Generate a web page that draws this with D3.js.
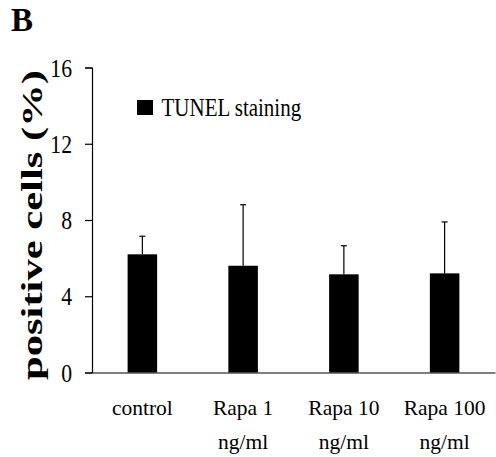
<!DOCTYPE html>
<html>
<head>
<meta charset="utf-8">
<script src="https://cdn.jsdelivr.net/npm/d3@7"></script>
<style>
  html, body { margin: 0; padding: 0; background: white; }
</style>
</head>
<body>
<div id="idMyCanvas"></div>
<script>
// data
let categories = [["control"], ["Rapa 1", "ng/ml"], ["Rapa 10", "ng/ml"], ["Rapa 100", "ng/ml"]];
let means = [6.2, 5.6, 5.15, 5.2];
let errors = [0.95, 3.2, 1.5, 2.7];
let y_ticks = [0, 4, 8, 12, 16];
let legend_label = "TUNEL staining";
let y_title = "positive cells  (%)";
let panel_label = "B";

let canvas_w = 496;
let canvas_h = 457;
let serif = "Liberation Serif, serif";

let svg_obj = d3.select("#idMyCanvas")
                .append("svg")
                  .attr("width", canvas_w)
                  .attr("height", canvas_h)
                  .attr("xmlns", "http://www.w3.org/2000/svg");

svg_obj.append("rect")
        .attr("width", canvas_w)
        .attr("height", canvas_h)
        .attr("fill", "white");

let x_left = 92;
let x_right = 495;
let y_top = 67.5;
let y_bottom = 372.5;

let x_scale = d3.scaleBand()
                .domain(d3.range(categories.length))
                .range([x_left, x_right])
                .paddingInner(0.707)
                .paddingOuter(0.3535);

let y_scale = d3.scaleLinear()
                .domain([0, 16])
                .range([y_bottom, y_top]);

// y axis
let y_axis = svg_obj.append("g")
                .attr("transform", "translate(" + x_left + ",0)")
                .call(d3.axisLeft(y_scale).tickValues(y_ticks).tickSizeOuter(0).tickSize(7).tickPadding(13));

y_axis.attr("font-family", serif);
y_axis.select(".domain").attr("stroke", "black").attr("stroke-width", 1.2);
y_axis.selectAll(".tick line").attr("stroke", "black").attr("stroke-width", 1.2);
// glyphs in the reference are stretched vertically a little
y_axis.selectAll(".tick text")
        .attr("font-family", serif)
        .attr("font-size", "21.7px")
        .attr("fill", "black")
        .attr("dy", null)
        .attr("y", 0)
        .attr("dominant-baseline", "central")
        .attr("transform", "scale(1,1.2)");

// x axis
let x_axis = svg_obj.append("g")
                .attr("transform", "translate(0," + y_bottom + ")")
                .call(d3.axisBottom(x_scale).tickSize(0).tickFormat(""));
x_axis.select(".domain").attr("stroke", "black").attr("stroke-width", 1.2);

// bars
svg_obj.append("g")
        .selectAll("rect")
        .data(means)
        .join("rect")
          .attr("x", (d, i) => x_scale(i))
          .attr("y", d => y_scale(d))
          .attr("width", x_scale.bandwidth())
          .attr("height", d => y_bottom - y_scale(d))
          .attr("fill", "black");

// error bars (upper only)
let err_g = svg_obj.append("g")
                .attr("stroke", "black")
                .attr("stroke-width", 1.2);

err_g.selectAll("line.stem")
        .data(means)
        .join("line")
          .attr("class", "stem")
          .attr("x1", (d, i) => x_scale(i) + x_scale.bandwidth() / 2)
          .attr("x2", (d, i) => x_scale(i) + x_scale.bandwidth() / 2)
          .attr("y1", d => y_scale(d))
          .attr("y2", (d, i) => y_scale(d + errors[i]));

err_g.selectAll("line.cap")
        .data(means)
        .join("line")
          .attr("class", "cap")
          .attr("x1", (d, i) => x_scale(i) + x_scale.bandwidth() / 2 - 3)
          .attr("x2", (d, i) => x_scale(i) + x_scale.bandwidth() / 2 + 3)
          .attr("y1", (d, i) => y_scale(d + errors[i]))
          .attr("y2", (d, i) => y_scale(d + errors[i]));

// category labels
let cat_g = svg_obj.append("g");
categories.forEach(function(lines, i) {
  let cx = x_scale(i) + x_scale.bandwidth() / 2;
  let t = cat_g.append("text")
                .attr("x", cx)
                .attr("y", 415)
                .attr("text-anchor", "middle")
                .attr("font-family", serif)
                .attr("font-size", "21.5px")
                .attr("fill", "black");
  lines.forEach(function(s, j) {
    t.append("tspan")
      .attr("x", cx)
      .attr("dy", j == 0 ? 0 : 34)
      .text(s);
  });
});

// legend
svg_obj.append("rect")
        .attr("x", 137)
        .attr("y", 100)
        .attr("width", 16)
        .attr("height", 15)
        .attr("fill", "black");

svg_obj.append("text")
        .attr("transform", "translate(161.5,115.5) scale(1,1.22)")
        .attr("font-family", serif)
        .attr("font-size", "21px")
        .attr("fill", "black")
        .text(legend_label);

// y title
svg_obj.append("text")
        .attr("transform", "translate(41.5,380) rotate(-90)")
        .attr("font-family", serif)
        .attr("font-weight", "bold")
        .attr("font-size", "29px")
        .attr("textLength", 310)
        .attr("lengthAdjust", "spacingAndGlyphs")
        .attr("fill", "black")
        .text(y_title);

// panel label
svg_obj.append("text")
        .attr("x", 11)
        .attr("y", 30.5)
        .attr("font-family", serif)
        .attr("font-weight", "bold")
        .attr("font-size", "33px")
        .attr("fill", "black")
        .text(panel_label);
</script>
</body>
</html>
